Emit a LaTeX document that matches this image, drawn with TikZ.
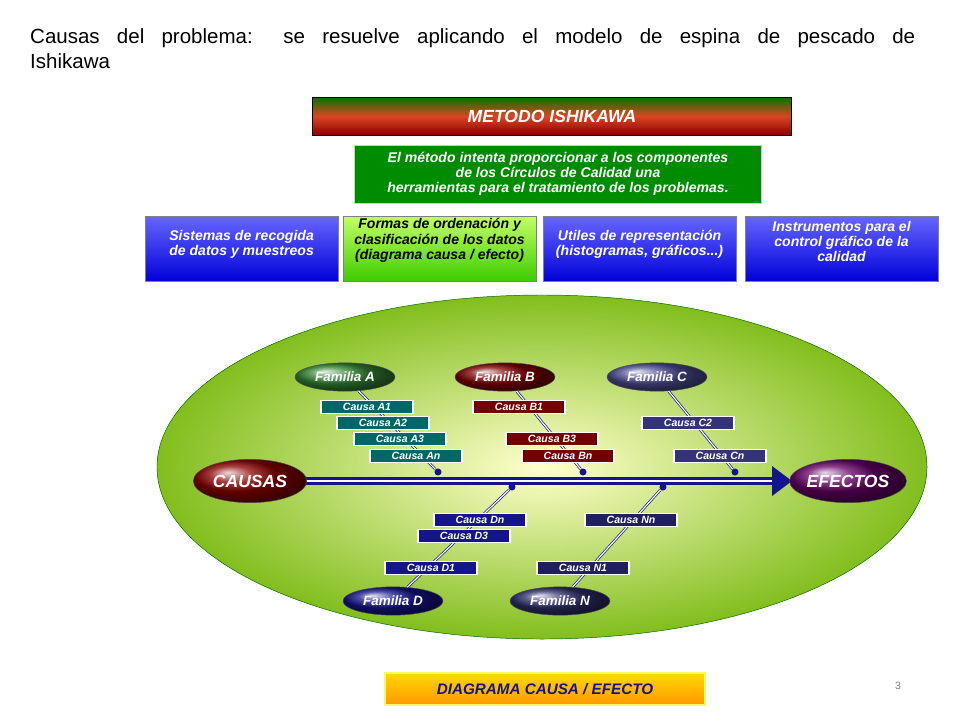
\documentclass[tikz,border=0pt]{standalone}
\usepackage{fontspec}
\setmainfont{Liberation Sans}
\usetikzlibrary{shapes.geometric,arrows.meta}
\definecolor{navy}{RGB}{20,20,140}
\definecolor{egreen}{RGB}{130,190,30}
\begin{document}
\begin{tikzpicture}[x=0.03cm,y=-0.03cm,
  bx/.style={font=\fontsize{12}{13}\selectfont\bfseries\itshape},
  topbox/.style={draw=gray,minimum width=5.78cm,minimum height=1.95cm,inner sep=0pt,anchor=north west},
  boxtxt/.style={anchor=north,align=center,bx,inner sep=0pt},
  cz/.style={draw=white,line width=1.2pt,minimum width=2.75cm,minimum height=0.4cm,inner sep=0pt,text=white,font=\fontsize{9}{10}\selectfont\bfseries\itshape},
  fam/.style={ellipse,draw=black!70,minimum width=3cm,minimum height=0.85cm,inner sep=0pt,text=white,font=\fontsize{11.5}{12}\selectfont\bfseries\itshape},
  bone/.style={double=white,draw=navy,line width=0.6pt,double distance=1pt},
  dot/.style={circle,fill=navy,inner sep=0pt,minimum size=6pt}]
\useasboundingbox (0,0) rectangle (960,720);
\fill[white] (0,0) rectangle (960,720);
\node[anchor=north west,text width=26.55cm,align=justify,font=\fontsize{17.5}{22}\selectfont,inner sep=0pt] (title) at (30,28)
 {Causas del problema: se resuelve aplicando el modelo de espina de pescado de\linebreak Ishikawa};
\node[draw=black,top color=green!45!black,bottom color=red!55!black,middle color=red!45!brown,minimum width=14.37cm,minimum height=1.14cm,text=white,font=\fontsize{15}{16}\selectfont\bfseries\itshape] (met) at (552,116) {METODO ISHIKAWA};
\node[fill=green!55!black,draw=gray!40,minimum width=12.2cm,minimum height=1.74cm,align=center,text=white,bx] (desc) at (558,174) {El método intenta proporcionar a los componentes\\de los Círculos de Calidad una\\ herramientas para el tratamiento de los problemas.};
\node[topbox,top color=blue!60,bottom color=blue!85!black] (b1) at (145,216) {};
\node[topbox,top color=yellow!60!green!60,bottom color=green!70!yellow!80!black] (b2) at (343,216) {};
\node[topbox,top color=blue!60,bottom color=blue!85!black] (b3) at (543,216) {};
\node[topbox,top color=blue!60,bottom color=blue!85!black] (b4) at (745,216) {};
\node[boxtxt,text=white] (t1) at ([yshift=-12pt]b1.north) {Sistemas de recogida\\ de datos y muestreos};
\node[boxtxt,text=black] (t2) at ([yshift=-2pt]b2.north) {Formas de ordenación y\\ clasificación de los datos\\(diagrama causa / efecto)};
\node[boxtxt,text=white] (t3) at ([yshift=-12pt]b3.north) {Utiles de representación\\(histogramas, gráficos...)};
\node[boxtxt,text=white] (t4) at ([yshift=-4pt]b4.north) {Instrumentos para el\\control gráfico de la\\calidad};
\shade[inner color=yellow!20,outer color=egreen,draw=green!40!black] (542,467) ellipse [x radius=11.55cm,y radius=5.16cm];
\coordinate (s0) at (300,481);
\draw[navy,line width=6pt] (s0)--(780,481);
\draw[white,line width=2pt] (s0)--(780,481);
\fill[navy] (772,466)--(792,481)--(772,496)--cycle;
\node[fam,ball color=red!55!black,minimum width=3.4cm,minimum height=1.3cm,font=\fontsize{15}{16}\selectfont\bfseries\itshape] (causas) at (250,481) {CAUSAS};
\node[fam,ball color=violet!80!black,minimum width=3.4cm,minimum height=1.3cm,font=\fontsize{15}{16}\selectfont\bfseries\itshape] (efectos) at (848,481) {EFECTOS};
\node[fam,ball color=green!40!black!80] (fa) at (345,377) {Familia A};
\node[fam,ball color=red!50!black] (fb) at (505,377) {Familia B};
\node[fam,ball color=blue!40!black!70] (fc) at (657,377) {Familia C};
\node[fam,ball color=navy] (fd) at (393,601) {Familia D};
\node[fam,ball color=gray!60!blue!60!black] (fn) at (560,601) {Familia N};
\node[dot] (da) at (438,472) {}; \node[dot] (db) at (583,472) {}; \node[dot] (dc) at (735,472) {};
\node[dot] (dd) at (512,487) {}; \node[dot] (dn) at (663,487) {};
\draw[bone] (fa) -- (da); \draw[bone] (fb) -- (db); \draw[bone] (fc) -- (dc);
\draw[bone] (fd) -- (dd); \draw[bone] (fn) -- (dn);
\tikzset{ca/.style={cz,fill=teal!80!black},cb/.style={cz,fill=red!45!black},cc/.style={cz,fill=blue!35!black!80},cd/.style={cz,fill=navy},cn/.style={cz,fill=gray!50!blue!50!black}}
\node[ca] (a1) at (367,407) {Causa A1};
\node[ca] (a2) at (383,423) {Causa A2};
\node[ca] (a3) at (400,439) {Causa A3};
\node[ca] (an) at (416,456) {Causa An};
\node[cb] (b1c) at (519,407) {Causa B1};
\node[cb] (b3c) at (552,439) {Causa B3};
\node[cb] (bnc) at (568,456) {Causa Bn};
\node[cc] (c2) at (688,423) {Causa C2};
\node[cc] (cnc) at (720,456) {Causa Cn};
\node[cd] (dnc) at (480,520) {Causa Dn};
\node[cd] (d3) at (464,536) {Causa D3};
\node[cd] (d1) at (431,568) {Causa D1};
\node[cn] (nn) at (631,520) {Causa Nn};
\node[cn] (n1) at (583,568) {Causa N1};
\node[draw=yellow!60,line width=1.5pt,top color=yellow!70!orange,bottom color=orange!80!yellow,minimum width=9.6cm,minimum height=0.96cm,font=\fontsize{13}{14}\selectfont\bfseries\itshape,text=navy] (dia) at (545,689) {DIAGRAMA CAUSA / EFECTO};
\node[text=gray,font=\small] (pg) at (898,686) {3};
\end{tikzpicture}
\end{document}
